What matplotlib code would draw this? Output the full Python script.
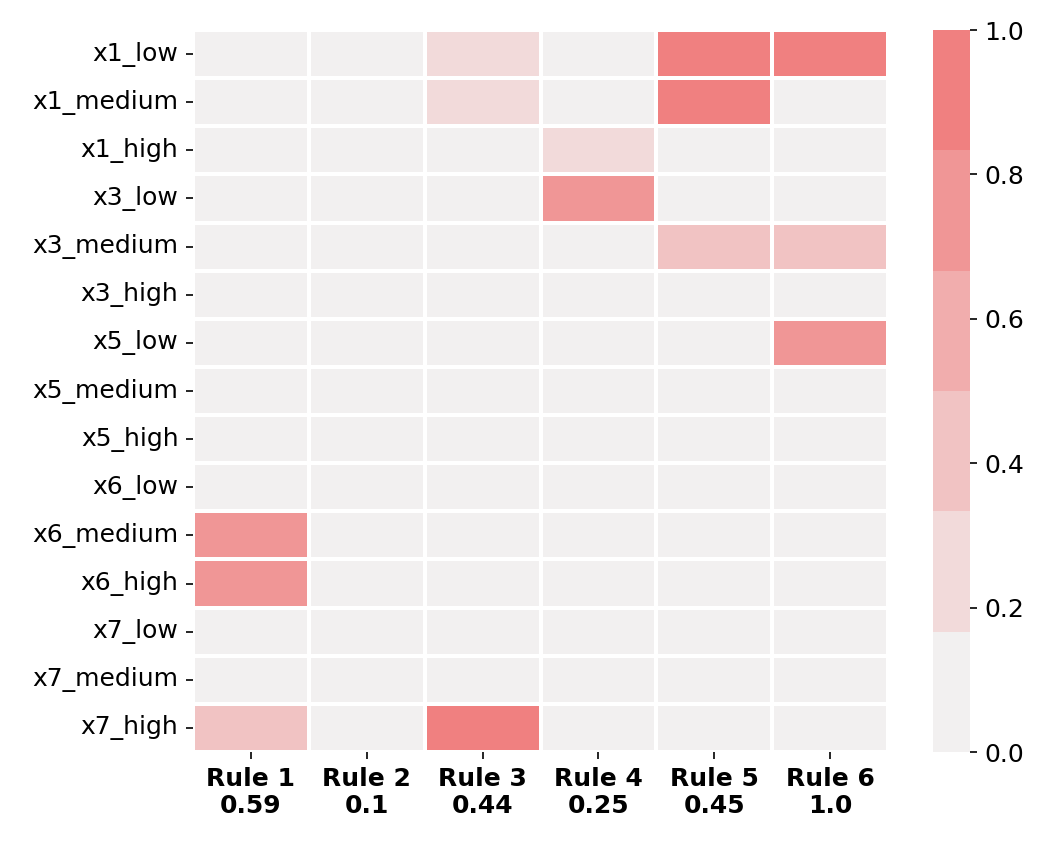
import numpy as np
import matplotlib
matplotlib.use("Agg")
import matplotlib.pyplot as plt
import seaborn as sns

features = ["x1_low", "x1_medium", "x1_high", "x3_low", "x3_medium", "x3_high",
            "x5_low", "x5_medium", "x5_high", "x6_low", "x6_medium", "x6_high",
            "x7_low", "x7_medium", "x7_high"]
rules = ["Rule 1", "Rule 2", "Rule 3", "Rule 4", "Rule 5", "Rule 6"]
rule_weights = [0.59, 0.1, 0.44, 0.25, 0.45, 1.0]

# rows: features, cols: rules
activation = np.array([
    [0.0, 0.0, 0.25, 0.0, 1.0, 1.0],
    [0.0, 0.0, 0.25, 0.0, 1.0, 0.0],
    [0.0, 0.0, 0.0, 0.25, 0.0, 0.0],
    [0.0, 0.0, 0.0, 0.75, 0.0, 0.0],
    [0.0, 0.0, 0.0, 0.0, 0.4, 0.4],
    [0.0, 0.0, 0.0, 0.0, 0.0, 0.0],
    [0.0, 0.0, 0.0, 0.0, 0.0, 0.75],
    [0.0, 0.0, 0.0, 0.0, 0.0, 0.0],
    [0.0, 0.0, 0.0, 0.0, 0.0, 0.0],
    [0.0, 0.0, 0.0, 0.0, 0.0, 0.0],
    [0.75, 0.0, 0.0, 0.0, 0.0, 0.0],
    [0.75, 0.0, 0.0, 0.0, 0.0, 0.0],
    [0.0, 0.0, 0.0, 0.0, 0.0, 0.0],
    [0.0, 0.0, 0.0, 0.0, 0.0, 0.0],
    [0.4, 0.0, 1.0, 0.0, 0.0, 0.0],
])

xlabels = [f"{r}\n{w}" for r, w in zip(rules, rule_weights)]
cmap = sns.light_palette("lightcoral", 6)

W, H = 1050, 845
fig = plt.figure(figsize=(W / 150, H / 150), dpi=150)
ax = fig.add_axes([193 / W, (H - 752) / H, (888 - 193) / W, (752 - 30) / H])
cax = fig.add_axes([933 / W, (H - 752) / H, 37 / W, (752 - 30) / H])
sns.heatmap(activation, cmap=cmap, vmin=0, vmax=1, linewidths=1, linecolor="white",
            xticklabels=xlabels, yticklabels=features, ax=ax, cbar_ax=cax)
ax.set_xticklabels(xlabels, rotation=0, fontweight="bold", fontsize=12)
ax.set_yticklabels(features, rotation=0, fontsize=12)
cax.tick_params(labelsize=12)
fig.savefig("out.png", dpi=150)
